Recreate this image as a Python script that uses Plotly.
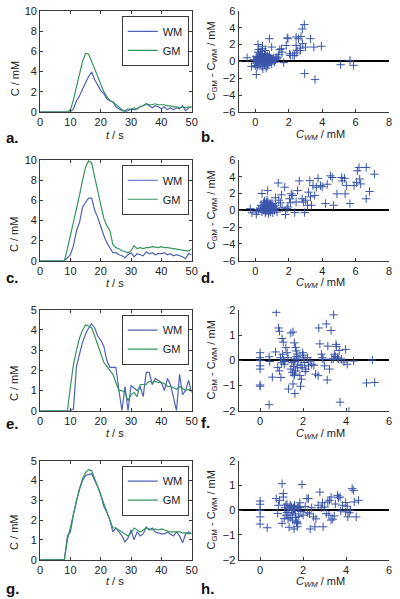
import plotly.graph_objects as go

# ---------------- data ----------------
t = list(range(51))

a_wm = [0]*11 + [0.3, 1.1, 1.6, 2.3, 2.9, 3.5, 3.95, 3.2, 2.6, 2.1, 1.8, 1.3, 1.1, 1.0, 0.5, 0.3, 0.1, 0.0,
                 0.1, 0.3, 0.2, 0.3, 0.5, 0.6, 0.8, 0.6, 0.4, 0.6, 0.5, 0.3, 0.5, 0.2, 0.4, 0.2, 0.4, 0.3,
                 0.6, 0.1, 0.4, 0.5]
a_gm = [0]*10 + [0.2, 1.2, 2.5, 3.8, 5.0, 5.8, 5.7, 5.0, 4.2, 3.4, 2.7, 2.0, 1.5, 1.1, 1.0, 0.7, 0.4, 0.2,
                 0.1, 0.3, 0.2, 0.4, 0.3, 0.5, 0.6, 0.8, 0.7, 0.7, 0.8, 0.7, 0.7, 0.7, 0.6, 0.6, 0.5, 0.5,
                 0.4, 0.5, 0.4, 0.5, 0.4]

c_wm = [0]*9 + [0.3, 0.6, 1.5, 3.0, 3.8, 5.3, 5.8, 6.2, 6.2, 5.0, 4.3, 3.3, 2.5, 1.8, 1.3, 0.8, 0.8, 0.6,
                0.5, 0.3, 0.6, 0.8, 0.4, 0.7, 0.6, 0.5, 0.9, 0.7, 0.8, 0.6, 0.7, 0.7, 0.8, 0.6, 0.7, 0.5,
                0.6, 0.5, 0.4, 0.2, 0.7, 0.6]
c_gm = [0]*8 + [0.0, 1.2, 2.5, 3.8, 5.0, 6.5, 8.0, 9.3, 9.9, 9.7, 8.3, 7.0, 5.5, 4.2, 3.5, 3.0, 1.6, 1.3,
                1.2, 1.0, 0.9, 0.8, 1.0, 1.5, 1.2, 1.3, 1.2, 1.3, 1.3, 1.4, 1.35, 1.3, 1.4, 1.3, 1.3, 1.25,
                1.2, 1.2, 1.1, 1.1, 1.0, 0.95, 1.2]

e_wm = [0]*11 + [0.1, 2.2, 2.8, 3.4, 3.8, 4.1, 4.3, 4.1, 3.7, 3.5, 3.2, 2.5, 2.15, 2.15, 2.15, 1.0, 0.0,
                 1.2, 0.0, 1.25, 1.1, 1.0, 1.2, 0.7, 1.9, 1.9, 1.3, 1.6, 1.5, 1.4, 1.0, 1.6, 1.3, 0.6, 0.0,
                 1.8, 0.8, 1.0, 1.5, 0.9]
e_gm = [0]*9 + [0.0, 1.2, 2.3, 3.0, 3.6, 4.0, 4.25, 4.2, 4.1, 3.7, 3.3, 2.9, 2.4, 2.2, 2.0, 1.8, 1.4, 1.0,
                1.0, 0.9, 0.5, 0.8, 0.9, 0.7, 1.3, 1.3, 1.3, 1.45, 1.4, 1.45, 1.4, 1.4, 1.35, 1.2, 1.2, 1.15,
                1.05, 1.2, 1.1, 1.0, 1.05, 1.0]

g_wm = [0]*8 + [0.0, 1.2, 1.4, 2.3, 3.0, 3.6, 4.0, 4.25, 4.3, 4.35, 4.0, 3.7, 3.3, 2.7, 2.4, 2.0, 1.4, 1.6,
                1.4, 1.2, 0.9, 1.1, 1.5, 1.0, 1.4, 1.2, 1.3, 1.65, 1.5, 1.6, 1.4, 1.35, 1.3, 1.3, 1.4, 1.3,
                1.2, 1.4, 1.2, 0.85, 1.3, 1.4, 1.3]
g_gm = [0]*8 + [0.0, 1.0, 1.6, 2.3, 3.0, 3.6, 4.1, 4.4, 4.55, 4.5, 4.1, 3.7, 3.3, 2.8, 2.5, 2.0, 1.6, 1.6,
                1.5, 1.4, 1.3, 1.2, 1.35, 1.6, 1.5, 1.4, 1.5, 1.6, 1.55, 1.5, 1.55, 1.5, 1.55, 1.5, 1.45, 1.4,
                1.4, 1.4, 1.4, 1.35, 1.35, 1.3, 1.35]

b_x = [0.0, 0.05, 0.1, 0.12, 0.15, 0.18, 0.2, 0.22, 0.25, 0.28, 0.3, 0.32, 0.35, 0.38, 0.4, 0.42, 0.45, 0.48,
       0.5, 0.52, 0.55, 0.58, 0.6, 0.62, 0.65, 0.68, 0.7, 0.72, 0.75, 0.78, 0.8, 0.82, 0.85, 0.88, 0.9, 0.92,
       0.95, 0.98, 1.0, 1.05, 1.1, 1.15, 1.2, 0.3, 0.55, 0.0, -0.1, 0.1, 0.65, 0.45, 0.2, 0.05, 0.85, 1.25, 1.3,
       -0.49, -0.23, 0.06, 0.16, 0.16, 0.43, 0.43, 0.84, 0.98, 0.74, 1.56, 1.7, 1.85, 1.91, 1.95, 2.1, 2.24,
       2.44, 2.58, 2.73, 2.81, 2.93, 2.69, 2.69, 3.0, 3.3, 3.5, 3.95, 2.95, 3.57, 5.1, 5.66, 5.87, 1.37, 1.46,
       2.44, 2.34, 2.05, 2.5, 2.83, 2.44, 0.35, 0.6, 0.15, 0.75, 0.5, 1.0, 1.4, 1.6]
b_y = [0.1, -0.2, 0.3, 0.0, -0.4, 0.5, 0.2, -0.1, 0.6, 0.1, -0.3, 0.4, 0.0, 0.2, -0.6, 0.7, 0.3, -0.1,
       0.5, 0.1, -0.4, 0.2, 0.8, -0.2, 0.4, 0.0, 0.6, -0.5, 0.3, 0.1, -0.2, 0.5, 0.2, -0.1, 0.4, 0.0,
       0.3, -0.3, 0.2, 0.1, 0.4, -0.1, 0.2, 0.9, 0.9, -0.5, 0.2, -0.7, -0.8, -0.9, 1.4, 0.6, 0.7, 0.5, 0.3,
       0.43, -0.6, -1.57, 1.1, 2.0, 1.8, 1.5, 2.7, 1.7, 0.7, 1.5, -0.15, 1.9, 2.8, 2.7, 0.7, 0.7,
       2.9, 2.7, 2.95, 3.85, 4.37, 1.57, 1.3, 1.7, 2.7, 1.7, 1.8, -1.45, -2.17, -0.4, 0.12, -0.47, 0.5, 1.4,
       1.9, 0.7, 0.9, 1.3, 2.1, 1.0, 1.2, 1.3, 0.5, -0.3, 0.0, 0.3, 0.8, 1.1]

d_x = [0.3, 0.35, 0.4, 0.45, 0.5, 0.5, 0.55, 0.6, 0.6, 0.65, 0.7, 0.7, 0.75, 0.8, 0.8, 0.85, 0.9, 0.9, 0.95,
       1.0, 1.0, 1.05, 1.1, 1.15, 1.2, 1.25, 0.55, 0.65, 0.75, 0.85, 0.95, 1.05, 0.45, 0.7, 0.9, 1.3, 0.6, 0.8,
       -0.3, -0.2, 0.06, 0.4, 0.74, 1.37, 1.56, 1.76, 1.8, 1.95, 2.24, 2.36, 2.44, 2.63, 2.8, 2.87, 2.95,
       3.12, 3.18, 3.26, 3.36, 3.45, 3.55, 3.65, 3.75, 3.9, 4.2, 4.3, 4.49, 4.6, 4.68, 4.88, 5.17, 5.33, 5.37,
       5.46, 5.66, 5.9, 6.05, 6.1, 6.2, 6.24, 6.3, 6.63, 6.63, 6.83, 7.12, 2.05, 2.15, 2.53, 1.4, 1.6, 1.2,
       1.9, 2.1, 3.3, 3.0, 4.0, 5.2, 1.5, 0.2, 0.1]
d_y = [0.2, 0.6, -0.2, 0.4, 0.9, 0.0, 0.3, -0.3, 0.7, 0.1, 0.5, -0.1, 1.0, 0.2, -0.4, 0.6, 0.3, -0.2, 0.8,
       0.1, 0.5, -0.3, 0.4, 0.0, 0.6, 0.2, 1.1, 0.9, 0.4, 0.0, 0.2, 0.8, 0.1, 1.2, 0.7, -0.2, -0.1, 0.5,
       0.2, -0.3, -0.47, 2.0, 2.35, 3.25, 1.84, 2.75, -0.5, 0.4, 1.76, -0.27, 1.0, 3.5, 1.37, 0.98, -0.27,
       0.6, 2.16, 3.53, 0.6, 2.94, 1.76, 2.75, 3.8, 2.94, 0.8, 3.1, 4.1, 3.9, 0.6, 1.96, 3.9, 3.8, 1.96,
       2.94, 0.8, 2.94, 3.33, 4.7, 5.1, 3.73, 3.14, 5.1, 1.37, 2.24, 4.3, 1.37, 1.96, 2.35, 1.2, 0.3, 1.5,
       0.2, 0.9, 1.6, 1.2, 2.8, 3.5, 0.9, 0.1, -0.1]

f_x = [0, 0, 0, 0, 0, 0, 0, 0.42, 0.45, 0.42, 0.57, 0.75, 0.86, 0.9, 0.72, 0.82, 0.9, 0.97, 1.02, 1.08,
       1.08, 1.12, 1.05, 1.2, 1.26, 1.32, 1.43, 1.53, 1.53, 1.62, 1.59, 1.65, 1.68, 1.43, 1.5, 1.58, 1.65,
       1.73, 1.8, 1.88, 1.92, 1.95, 1.98, 2.03, 2.07, 2.13, 2.25, 2.33, 2.4, 2.58, 2.7, 2.73, 2.78, 2.85, 2.93,
       3.0, 3.08, 3.12, 3.15, 3.23, 3.3, 3.33, 3.42, 3.45, 3.53, 3.6, 3.68, 3.72, 3.78, 3.9, 3.98, 4.05, 4.13,
       4.35, 4.95, 5.33, 5.22, 1.55, 1.6, 1.7, 1.75, 1.85, 1.62, 1.48, 2.0, 2.1, 1.58, 1.72, 1.9, 1.3, 1.15,
       2.2, 2.5, 3.4, 3.5, 3.55, 3.65, 2.9, 1.0, 0.95]
f_y = [0.3, 0.1, -0.22, -0.35, -1.03, -0.98, 0.0, 0.14, -0.05, -1.76, -0.67, 1.9, 1.28, 1.15, 0.33, -0.29,
       -0.42, -0.68, 0.86, 0.72, 0.0, -0.16, 0.24, 0.5, 0.3, -1.14, 1.08, 1.12, -0.94, -1.32, 0.69, 0.5, 0.37,
       -0.35, -0.48, -0.61, -0.42, -0.18, 0.04, -1.03, -0.75, -0.29, 0.3, 0.1, -0.09, -0.35, -0.22, -0.03,
       -0.16, -0.55, -0.61, 1.28, 0.65, 0.24, 0.04, -0.22, 1.44, -0.78, 0.56, -0.35, 1.18, 0.04, 1.8, 0.24,
       0.63, 0.1, 0.39, -1.66, 0.04, -0.07, 0.43, -0.16, -2.03, -0.03, -0.9, -0.88, 0.01, -0.25, -0.55, 0.15,
       -0.3, -0.6, 0.05, -0.1, 0.2, -0.45, -0.05, 0.25, -0.2, 0.1, -0.05, 0.1, -0.2, 0.05, 0.15, 0.55, 0.05,
       0.1, -0.1, 0.1]

h_x = [0, 0, 0, 0, 0, 0.33, 0.75, 0.9, 0.82, 1.02, 1.08, 1.08, 1.02, 1.12, 1.2, 1.35, 1.58, 1.95, 1.73,
       2.18, 2.25, 2.33, 2.48, 2.55, 2.78, 2.93, 3.0, 3.08, 3.15, 3.23, 3.3, 3.38, 3.45, 3.6, 3.72, 3.83, 3.98,
       4.05, 4.08, 4.2, 4.28, 4.35, 4.38, 4.47, 4.58, 3.98, 3.75, 1.15, 1.2, 1.25, 1.3, 1.35, 1.4, 1.45, 1.5,
       1.55, 1.6, 1.65, 1.7, 1.75, 1.8, 1.85, 1.9, 1.3, 1.4, 1.5, 1.6, 1.7, 1.8, 1.25, 1.45, 1.65, 1.85, 2.0,
       2.1, 2.2, 2.4, 2.6, 2.7, 2.85, 3.2, 3.5, 3.65, 4.15, 1.55, 1.75, 2.3, 2.9, 3.3, 0.85]
h_y = [0.37, 0.24, 0.0, -0.27, -0.56, -0.71, 0.47, 0.4, -0.13, 1.07, 0.67, 0.53, -0.53, -0.33, 0.2,
       -0.69, -0.76, 1.04, -0.67, 0.47, 0.47, -0.76, -0.27, -0.67, 0.73, -0.67, 0.13, -0.13, 0.33, 0.4, 0.53,
       -0.36, -0.23, 0.6, 0.53, 0.2, -0.07, 0.16, -0.27, 0.0, 0.87, 0.8, 0.33, -0.27, 0.4, 0.31, -0.03,
       0.1, -0.2, 0.25, -0.1, 0.05, -0.3, 0.15, -0.4, 0.0, 0.2, -0.15, -0.5, 0.1, -0.25, 0.3, -0.05, -0.35,
       0.2, -0.2, 0.05, -0.45, 0.15, -0.1, 0.0, -0.3, 0.1, -0.2, 0.15, -0.1, 0.1, -0.35, 0.2, 0.1, -0.2,
       0.25, 0.5, -0.1, 0.1, -0.55, -0.15, 0.3, -0.4, 0.2, -0.3]

# ---------------- layout helpers ----------------
W, H = 400, 599
WM_COL = "#4f62b8"
GM_COL = "#35955e"
PT_COL = "#3a55aa"
AX_COL = "#3a3a3a"
FONT = "Liberation Sans, Arial, sans-serif"

def fx(p):
    return p / W

def fy(p):
    return 1 - p / H

rows = [(5, 108), (157, 260), (310, 413), (464, 565)]
left_x = (38, 193)
right_x = (241, 395)

left_sets = [(a_wm, a_gm, [0, 10], 2), (c_wm, c_gm, [0, 10], 2),
             (e_wm, e_gm, [0, 5], 1), (g_wm, g_gm, [0, 5], 1)]
right_sets = [(b_x, b_y, [-1, 8], [-6, 6], 2), (d_x, d_y, [-1, 8], [-6, 6], 2),
              (f_x, f_y, [-1, 6], [-2, 2], 1), (h_x, h_y, [-1, 6], [-2, 2], 1)]

fig = go.Figure()
layout = dict(width=W, height=H, margin=dict(l=0, r=0, t=0, b=0),
              paper_bgcolor="white", plot_bgcolor="white", showlegend=True,
              font=dict(family=FONT, size=11, color="#222"))
annotations = []

tickfont = dict(family=FONT, size=11, color="#222")

for i in range(4):
    top, bot = rows[i]
    ydom = [fy(bot), fy(top)]
    # left panel
    n = 2 * i + 1
    xa = "x" if n == 1 else f"x{n}"
    ya = "y" if n == 1 else f"y{n}"
    wm, gm, yr, dy = left_sets[i]
    leg = "legend" if i == 0 else f"legend{i + 1}"
    fig.add_trace(go.Scatter(x=t, y=wm, mode="lines", name="WM", line=dict(color=WM_COL, width=1.2),
                             xaxis=xa, yaxis=ya, legend=leg))
    fig.add_trace(go.Scatter(x=t, y=gm, mode="lines", name="GM", line=dict(color=GM_COL, width=1.2),
                             xaxis=xa, yaxis=ya, legend=leg))
    layout["xaxis" if n == 1 else f"xaxis{n}"] = dict(
        domain=[fx(left_x[0]), fx(left_x[1])], anchor=ya, range=[0, 50], dtick=10, tick0=0,
        showline=True, linecolor=AX_COL, linewidth=1, mirror="ticks", ticks="inside", ticklen=3,
        tickcolor=AX_COL, showgrid=False, zeroline=False, tickfont=tickfont)
    layout["yaxis" if n == 1 else f"yaxis{n}"] = dict(
        domain=ydom, anchor=xa, range=yr, dtick=dy, tick0=0,
        showline=True, linecolor=AX_COL, linewidth=1, mirror="ticks", ticks="inside", ticklen=3,
        tickcolor=AX_COL, showgrid=False, zeroline=False, tickfont=tickfont)
    layout[leg] = dict(x=fx(190), y=fy(top + 5), xanchor="right", yanchor="top",
                       bordercolor=AX_COL, borderwidth=1, bgcolor="white",
                       font=dict(family=FONT, size=11, color="#222"), tracegroupgap=0,
                       itemwidth=30, traceorder="normal")

    # right panel
    m = 2 * i + 2
    xb, yb = f"x{m}", f"y{m}"
    sx, sy, xr, yr2, dy2 = right_sets[i]
    fig.add_trace(go.Scatter(x=sx, y=sy, mode="markers", showlegend=False,
                             marker=dict(symbol="cross-thin", size=6, line=dict(color=PT_COL, width=1)),
                             xaxis=xb, yaxis=yb))
    layout[f"xaxis{m}"] = dict(
        domain=[fx(right_x[0]), fx(right_x[1])], anchor=yb, range=xr, dtick=2, tick0=0,
        showline=True, linecolor=AX_COL, linewidth=1, mirror=False, ticks="inside", ticklen=3,
        tickcolor=AX_COL, showgrid=False, zeroline=False, tickfont=tickfont)
    layout[f"yaxis{m}"] = dict(
        domain=ydom, anchor=xb, range=yr2, dtick=dy2, tick0=0,
        showline=True, linecolor=AX_COL, linewidth=1, mirror=False, ticks="inside", ticklen=3,
        tickcolor=AX_COL, showgrid=False, zeroline=True, zerolinecolor="black", zerolinewidth=1.5,
        tickfont=tickfont)

left_ytitle_y = [74, 233, 385, 537]
left_xtitle_y = [132, 283, 436, 587]
right_xtitle_y = [132, 283, 437, 588]
panel_y_left = [134, 277, 426, 594]
panel_y_right = [133, 277, 425, 594]
letters = ["a.", "b.", "c.", "d.", "e.", "f.", "g.", "h."]

def ann(text, x, y, angle=0, size=11, color="#222", xanchor="center"):
    return dict(text=text, x=fx(x), y=fy(y), xref="paper", yref="paper", showarrow=False,
                textangle=angle, xanchor=xanchor, yanchor="middle",
                font=dict(family=FONT, size=size, color=color))

for i in range(4):
    top, bot = rows[i]
    annotations.append(ann("C / mM", 12, left_ytitle_y[i], angle=-90))
    annotations.append(ann("<i>t</i> / s", 115, left_xtitle_y[i]))
    annotations.append(ann("C<sub>GM</sub> - C<sub>WM</sub> / mM", 214, (top + bot) / 2, angle=-90))
    annotations.append(ann("<i>C</i><sub><i>WM</i></sub> / mM", 325, right_xtitle_y[i]))
    annotations.append(ann("<b>" + letters[2 * i] + "</b>", 1, panel_y_left[i], size=15, color="#111",
                           xanchor="left"))
    annotations.append(ann("<b>" + letters[2 * i + 1] + "</b>", 201, panel_y_right[i], size=15,
                           color="#111", xanchor="left"))

layout["annotations"] = annotations
fig.update_layout(**layout)
fig.write_html("out.html", config={"displayModeBar": False},
               post_script="document.body.style.margin='0';document.body.style.overflow='hidden';")
